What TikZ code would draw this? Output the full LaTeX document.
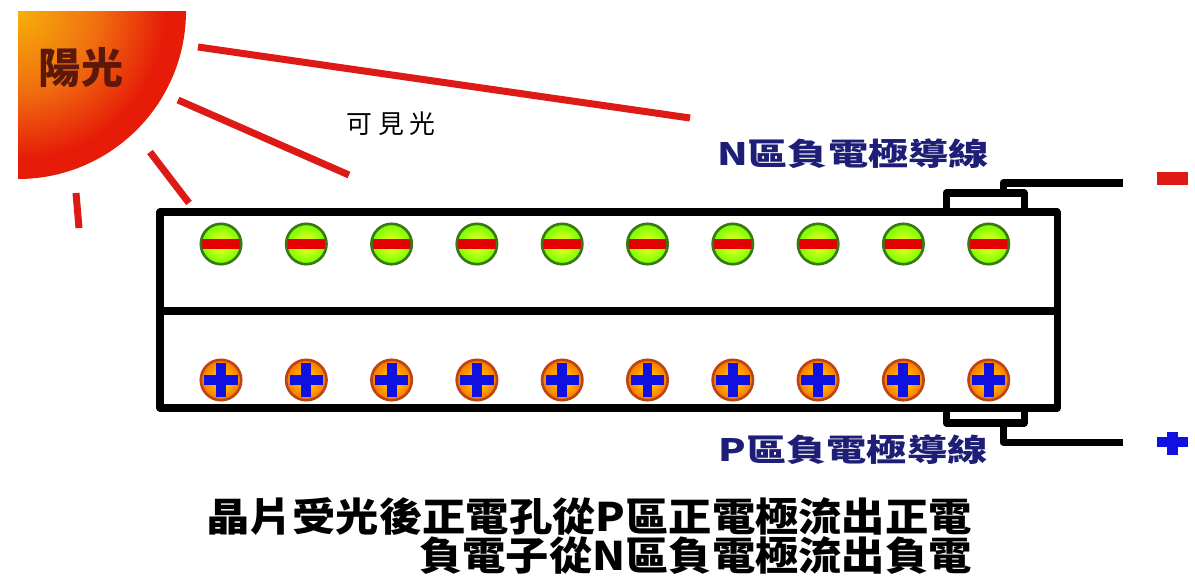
\documentclass[tikz,border=0pt]{standalone}
\usepackage{fontspec}
\newfontfamily\cjk{Noto Sans CJK TC}
\newfontfamily\cjkwide{Noto Sans CJK TC}[FakeStretch=1.3]
\newfontfamily\cjkbody{Noto Sans CJK TC}[FakeStretch=1.1]
\usetikzlibrary{calc}

\definecolor{rayred}{RGB}{222,26,22}
\definecolor{sunyellow}{RGB}{246,176,10}
\definecolor{sunorange}{RGB}{240,110,16}
\definecolor{sunred}{RGB}{230,28,8}
\definecolor{sunbrown}{RGB}{92,24,8}
\definecolor{navy}{RGB}{30,30,118}
\definecolor{ringgreen}{RGB}{58,120,20}
\definecolor{ringbrown}{RGB}{185,70,20}
\definecolor{crossblue}{RGB}{16,16,224}

\pgfdeclareradialshading{sunglow}{\pgfpointorigin}{color(0bp)=(sunyellow);
  color(12bp)=(sunorange); color(22bp)=(sunred); color(50bp)=(sunred)}

\tikzset{
  ray/.style={rayred, line width=4pt},
  frame/.style={black, line width=4pt, line join=round},
  electron/.style={circle, minimum size=23pt, inner sep=0pt, draw=ringgreen,
    line width=1.5pt, inner color=yellow!85!white, outer color=green!55!yellow,
    path picture={\fill[red!90!black]
      ([yshift=-2.6pt]path picture bounding box.west) rectangle
      ([yshift=2.6pt]path picture bounding box.east);}},
  hole/.style={circle, minimum size=23pt, inner sep=0pt, draw=ringbrown,
    line width=1.5pt, inner color=yellow!80!orange, outer color=orange!90!red,
    path picture={
      \fill[crossblue] ($(path picture bounding box.center)+(-9.5pt,-2.8pt)$)
        rectangle ($(path picture bounding box.center)+(9.5pt,2.8pt)$);
      \fill[crossblue] ($(path picture bounding box.center)+(-2.8pt,-9.5pt)$)
        rectangle ($(path picture bounding box.center)+(2.8pt,9.5pt)$);}},
  suntext/.style={font=\cjk\bfseries\fontsize{24pt}{24pt}\selectfont, text=sunbrown},
  wiretext/.style={font=\cjkwide\bfseries\fontsize{17.6pt}{18pt}\selectfont, text=navy},
  bodytext/.style={font=\cjkbody\bfseries\fontsize{22.4pt}{22.2pt}\selectfont,
    align=right, anchor=east}
}

\begin{document}
\begin{tikzpicture}[x=0.02cm,y=-0.02cm]
\useasboundingbox (0,0) rectangle (1195,579);

% sun
\begin{scope}
  \clip (18,11) rectangle (200,200);
  \shade[shading=sunglow] (18,11) circle (168);
\end{scope}
\node[suntext] (sun) at (81,68) {陽光};

% rays
\coordinate (r1a) at (198,47);  \coordinate (r1b) at (690,118);
\coordinate (r2a) at (178,100); \coordinate (r2b) at (349,175);
\coordinate (r3a) at (150,152); \coordinate (r3b) at (189,203);
\coordinate (r4a) at (76,193);  \coordinate (r4b) at (79,228);
\draw[ray] (r1a)--(r1b);
\draw[ray] (r2a)--(r2b);
\draw[ray] (r3a)--(r3b);
\draw[ray] (r4a)--(r4b);
\node[font=\cjk\fontsize{14.7pt}{15pt}\selectfont] (visible) at (391,124)
  {可\hspace{3.4pt}見\hspace{3.4pt}光};

% electrodes and wires
\coordinate (ntop) at (1003,193);
\coordinate (nend) at (1123,183);
\coordinate (pbot) at (1003,423);
\coordinate (pend) at (1123,442);
\draw[frame] (946,193) rectangle (1024,212);
\draw[frame] (946,408) rectangle (1024,423);
\draw[frame] (ntop) |- (nend);
\draw[frame] (pbot) |- (pend);

% cell
\draw[frame] (160,212) rectangle (1057,408);
\draw[frame] (160,311) -- (1057,311);

\foreach \i in {1,...,10}{
  \node[electron] (e\i) at ({221+85.3*(\i-1)},244) {};
  \node[hole] (h\i) at ({221+85.3*(\i-1)},380) {};
}

% terminals
\fill[rayred] (1157,172) rectangle (1188,185);
\fill[crossblue] (1157,437) rectangle (1188,447);
\fill[crossblue] (1167,432) rectangle (1178,455);

\node[wiretext] (nlabel) at (853,154) {N區負電極導線};
\node[wiretext] (plabel) at (853,450) {P區負電極導線};

\node[bodytext] (caption) at (978,536)
  {晶片受光後正電孔從P區正電極流出正電\\負電子從N區負電極流出負電};

\end{tikzpicture}
\end{document}
